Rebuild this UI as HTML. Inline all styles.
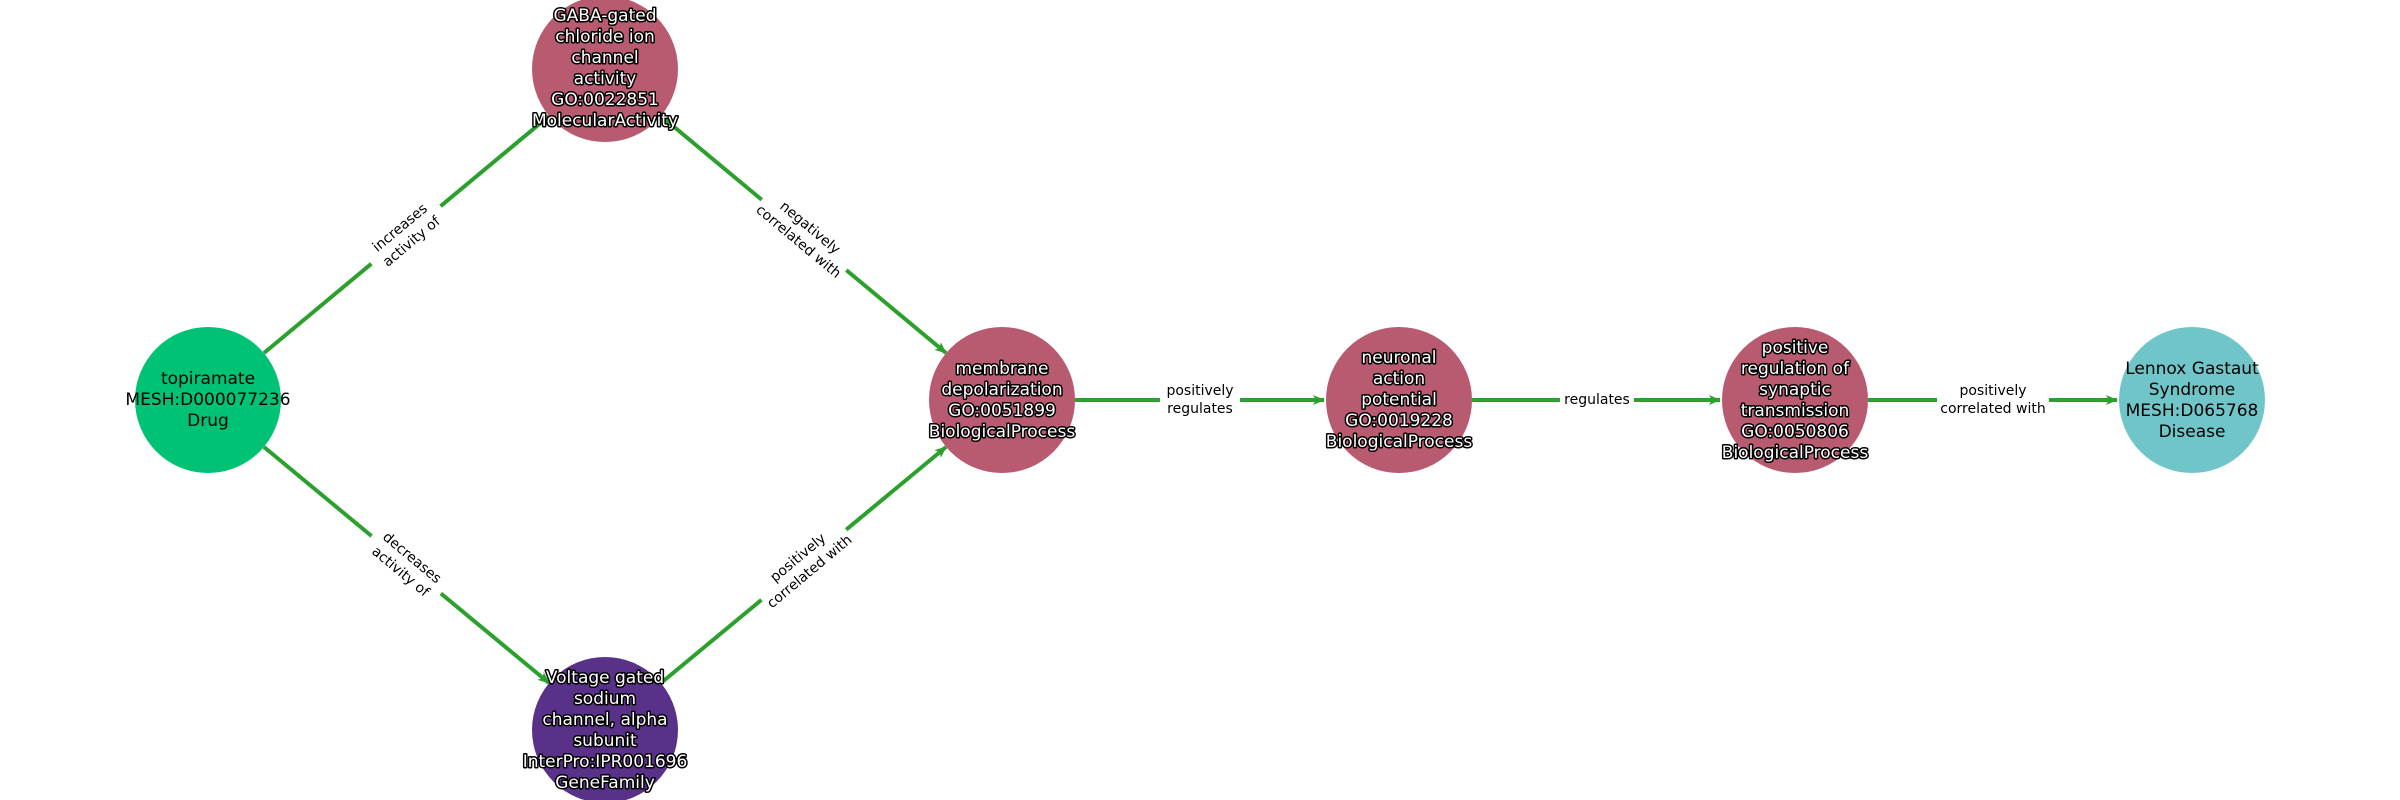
<!DOCTYPE html>
<html><head><meta charset="utf-8"><style>
html,body{margin:0;padding:0;background:#fff;}
svg{display:block;}
.n{font-family:"DejaVu Sans","Liberation Sans",sans-serif;font-size:17px;text-anchor:middle;dominant-baseline:central;}
.w{fill:#fff;stroke:#000;stroke-width:3px;paint-order:stroke;stroke-linejoin:round;}
.b{fill:#000;}
.e{font-family:"DejaVu Sans","Liberation Sans",sans-serif;font-size:14px;text-anchor:middle;dominant-baseline:central;fill:#000;}
line{stroke:#2ca02c;stroke-width:4;}
</style></head><body>
<svg width="2400" height="800" viewBox="0 0 2400 800" xmlns="http://www.w3.org/2000/svg">
<defs><marker id="a" markerWidth="12" markerHeight="10" refX="11" refY="5" orient="auto" markerUnits="userSpaceOnUse"><path d="M0,0 L12,5 L0,10 L3,5 z" fill="#2ca02c"/></marker></defs>
<line x1="264" y1="353" x2="549" y2="116" marker-end="url(#a)"/>
<line x1="661" y1="116" x2="946" y2="353" marker-end="url(#a)"/>
<line x1="264" y1="447" x2="549" y2="683" marker-end="url(#a)"/>
<line x1="661" y1="683" x2="946" y2="447" marker-end="url(#a)"/>
<line x1="1075" y1="400" x2="1324" y2="400" marker-end="url(#a)"/>
<line x1="1472" y1="400" x2="1720" y2="400" marker-end="url(#a)"/>
<line x1="1868" y1="400" x2="2117" y2="400" marker-end="url(#a)"/>
<g transform="translate(406,235) rotate(-39.8)"><rect x="-45" y="-22" width="90" height="44" fill="#fff"/><text class="e" y="-9">increases</text><text class="e" y="9">activity of</text></g>
<g transform="translate(804,235) rotate(39.8)"><rect x="-55" y="-22" width="110" height="44" fill="#fff"/><text class="e" y="-9">negatively</text><text class="e" y="9">correlated with</text></g>
<g transform="translate(406,565) rotate(39.8)"><rect x="-45" y="-22" width="90" height="44" fill="#fff"/><text class="e" y="-9">decreases</text><text class="e" y="9">activity of</text></g>
<g transform="translate(804,565) rotate(-39.8)"><rect x="-55" y="-22" width="110" height="44" fill="#fff"/><text class="e" y="-9">positively</text><text class="e" y="9">correlated with</text></g>
<g transform="translate(1200,400)"><rect x="-40" y="-22" width="80" height="44" fill="#fff"/><text class="e" y="-9">positively</text><text class="e" y="9">regulates</text></g>
<g transform="translate(1597,400)"><rect x="-37" y="-12" width="74" height="24" fill="#fff"/><text class="e" y="0">regulates</text></g>
<g transform="translate(1993,400)"><rect x="-56" y="-22" width="112" height="44" fill="#fff"/><text class="e" y="-9">positively</text><text class="e" y="9">correlated with</text></g>
<circle cx="208" cy="400" r="73" fill="#00c274"/>
<circle cx="605" cy="69" r="73" fill="#b85a70"/>
<circle cx="1002" cy="400" r="73" fill="#b85a70"/>
<circle cx="605" cy="730" r="73" fill="#5a3189"/>
<circle cx="1399" cy="400" r="73" fill="#b85a70"/>
<circle cx="1795" cy="400" r="73" fill="#b85a70"/>
<circle cx="2192" cy="400" r="73" fill="#70c5c9"/>
<g><text class="n b" x="208" y="379">topiramate</text><text class="n b" x="208" y="400">MESH:D000077236</text><text class="n b" x="208" y="421">Drug</text></g>
<g><text class="n w" x="605" y="16">GABA-gated</text><text class="n w" x="605" y="37">chloride ion</text><text class="n w" x="605" y="58">channel</text><text class="n w" x="605" y="79">activity</text><text class="n w" x="605" y="100">GO:0022851</text><text class="n w" x="605" y="121">MolecularActivity</text></g>
<g><text class="n w" x="1002" y="369">membrane</text><text class="n w" x="1002" y="390">depolarization</text><text class="n w" x="1002" y="411">GO:0051899</text><text class="n w" x="1002" y="432">BiologicalProcess</text></g>
<g><text class="n w" x="605" y="678">Voltage gated</text><text class="n w" x="605" y="699">sodium</text><text class="n w" x="605" y="720">channel, alpha</text><text class="n w" x="605" y="741">subunit</text><text class="n w" x="605" y="762">InterPro:IPR001696</text><text class="n w" x="605" y="783">GeneFamily</text></g>
<g><text class="n w" x="1399" y="358">neuronal</text><text class="n w" x="1399" y="379">action</text><text class="n w" x="1399" y="400">potential</text><text class="n w" x="1399" y="421">GO:0019228</text><text class="n w" x="1399" y="442">BiologicalProcess</text></g>
<g><text class="n w" x="1795" y="348">positive</text><text class="n w" x="1795" y="369">regulation of</text><text class="n w" x="1795" y="390">synaptic</text><text class="n w" x="1795" y="411">transmission</text><text class="n w" x="1795" y="432">GO:0050806</text><text class="n w" x="1795" y="453">BiologicalProcess</text></g>
<g><text class="n b" x="2192" y="369">Lennox Gastaut</text><text class="n b" x="2192" y="390">Syndrome</text><text class="n b" x="2192" y="411">MESH:D065768</text><text class="n b" x="2192" y="432">Disease</text></g>
</svg>
</body></html>
